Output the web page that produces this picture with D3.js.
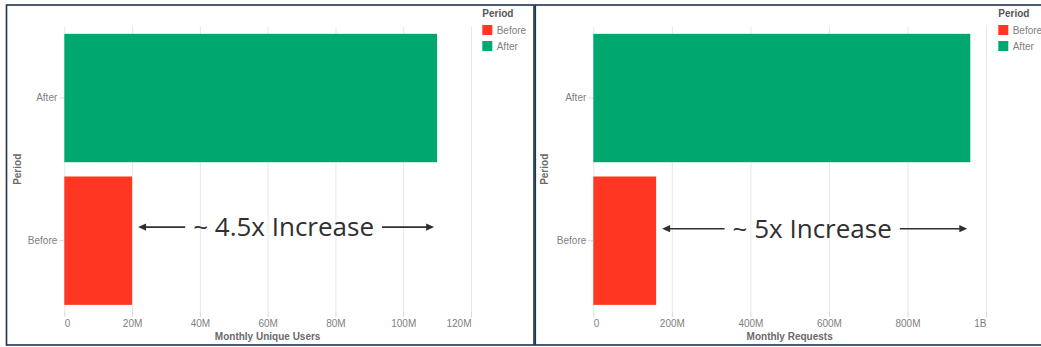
<!DOCTYPE html>
<html>
<head>
<meta charset="utf-8">
<script src="https://cdn.jsdelivr.net/npm/d3@7"></script>
<style>
  html, body { margin: 0; padding: 0; background: #ffffff; }
  svg { display: block; font-family: "Liberation Sans", Arial, Helvetica, sans-serif; }
</style>
</head>
<body>
<svg id="chart" width="1041" height="347"></svg>
<script>
// ---- data ----
const categories = ["After", "Before"];
const legendOrder = ["Before", "After"];
const usersValues = [110e6, 20e6];
const requestsValues = [960e6, 160e6];
const usersTicks = [0, 20e6, 40e6, 60e6, 80e6, 100e6, 120e6];
const usersTickLabels = ["0", "20M", "40M", "60M", "80M", "100M", "120M"];
const requestsTicks = [0, 200e6, 400e6, 600e6, 800e6, 1e9];
const requestsTickLabels = ["0", "200M", "400M", "600M", "800M", "1B"];
const usersTitle = "Monthly Unique Users";
const requestsTitle = "Monthly Requests";
const usersAnnotation = "~ 4.5x Increase";
const requestsAnnotation = "~ 5x Increase";
const legendTitle = "Period";
const yTitle = "Period";

// ---- styles ----
const SANS = "'Liberation Sans', Arial, Helvetica, sans-serif";
const color = d3.scaleOrdinal().domain(legendOrder).range(["#ff3621", "#00a870"]);
const svg = d3.select("#chart");

// panel frames
svg.append("rect").attr("x", 6.5).attr("y", 5).attr("width", 527.5).attr("height", 340)
  .attr("fill", "none").attr("stroke", "#1d3452").attr("stroke-width", 1.6);
svg.append("rect").attr("x", 535.3).attr("y", 5).attr("width", 520).attr("height", 340)
  .attr("fill", "none").attr("stroke", "#1d3452").attr("stroke-width", 1.6);

function drawPanel(cfg) {
  const g = svg.append("g");
  const x = d3.scaleLinear().domain([0, cfg.ticks[cfg.ticks.length - 1]]).range([cfg.x0, cfg.x1]);
  const y = d3.scaleBand().domain(categories).range([26.7, 312]).paddingInner(0.1).paddingOuter(0.05);

  // grid
  const grid = g.append("g").attr("transform", "translate(0,312)")
    .call(d3.axisBottom(x).tickValues(cfg.ticks).tickSize(-(312 - 26.7)).tickFormat(""));
  grid.select(".domain").remove();
  grid.selectAll("line").attr("stroke", "#e8e8e8").attr("stroke-width", 1);

  // x axis
  const xa = g.append("g").attr("transform", "translate(0,312)")
    .call(d3.axisBottom(x).tickValues(cfg.ticks).tickSize(5).tickPadding(3)
      .tickFormat((d, i) => cfg.tickLabels[i]));
  xa.select(".domain").remove();
  xa.selectAll("line").attr("stroke", "#d8d8d8");
  xa.selectAll("text").attr("fill", "#808080").style("font-size", "10px").style("font-family", SANS)
    .attr("text-anchor", (d, i) => i === 0 ? "start" : (i === cfg.ticks.length - 1 ? "end" : "middle"));

  // x title
  g.append("text").attr("x", (cfg.x0 + cfg.x1) / 2).attr("y", 340)
    .attr("text-anchor", "middle").style("font-size", "10px").style("font-weight", "bold")
    .style("font-family", SANS).attr("fill", "#6a6a6a").text(cfg.xTitle);

  // y axis
  const ya = g.append("g").attr("transform", `translate(${cfg.x0},0)`)
    .call(d3.axisLeft(y).tickSize(5).tickPadding(2));
  ya.select(".domain").remove();
  ya.selectAll("line").attr("stroke", "#d8d8d8");
  ya.selectAll("text").attr("fill", "#808080").style("font-size", "10px").style("font-family", SANS);

  // y title
  g.append("text").attr("transform", `translate(${cfg.yTitleX},169.3) rotate(-90)`)
    .attr("text-anchor", "middle").style("font-size", "10px").style("font-weight", "bold")
    .style("font-family", SANS).attr("fill", "#6a6a6a").text(yTitle);

  // bars
  g.selectAll("rect.bar").data(categories).enter().append("rect")
    .attr("class", "bar")
    .attr("x", x(0))
    .attr("y", d => y(d))
    .attr("width", (d, i) => x(cfg.values[i]) - x(0))
    .attr("height", y.bandwidth())
    .attr("fill", d => color(d));

  // legend
  const lg = g.append("g").attr("transform", `translate(${cfg.legendX},0)`);
  lg.append("text").attr("x", 0).attr("y", 16.5).style("font-size", "10px").style("font-weight", "bold")
    .style("font-family", SANS).attr("fill", "#555").text(legendTitle);
  legendOrder.forEach((c, i) => {
    const cy = 30 + i * 16;
    lg.append("rect").attr("x", 0).attr("y", cy - 5).attr("width", 10).attr("height", 10).attr("fill", color(c));
    lg.append("text").attr("x", 14.4).attr("y", cy).attr("dy", "0.35em").style("font-size", "10px")
      .style("font-family", SANS).attr("fill", "#808080").text(c);
  });

  // annotation
  const beforeEnd = x(cfg.values[categories.indexOf("Before")]);
  const afterEnd = x(cfg.values[categories.indexOf("After")]);
  const headL = beforeEnd + 6;
  const headR = afterEnd - 3;
  const base = y("Before") + y.bandwidth() / 2 - cfg.baseOff;
  const ay = base - 9;
  const mid = (headL + headR) / 2 - 2.5;
  const t = g.append("text").attr("x", mid).attr("y", base).attr("text-anchor", "middle")
    .style("font-family", "'Open Sans', sans-serif").style("font-size", "26px").attr("fill", "#2f2f2f")
    .text(cfg.annotation);
  const w = t.node().getComputedTextLength();
  const tl = mid - w / 2, tr = mid + w / 2;
  const arrow = (xFrom, xTo) => {
    const dir = Math.sign(xTo - xFrom);
    g.append("line").attr("x1", xFrom).attr("x2", xTo - dir * 6).attr("y1", ay).attr("y2", ay)
      .attr("stroke", "#2f2f2f").attr("stroke-width", 1.6);
    g.append("path")
      .attr("d", `M${xTo},${ay} L${xTo - dir * 8},${ay - 3.6} L${xTo - dir * 8},${ay + 3.6} Z`)
      .attr("fill", "#2f2f2f");
  };
  arrow(tl - 8, headL);
  arrow(tr + 8, headR);
}

drawPanel({
  values: usersValues, ticks: usersTicks, tickLabels: usersTickLabels, xTitle: usersTitle,
  annotation: usersAnnotation, x0: 64.3, x1: 471, yTitleX: 20.7, legendX: 482.3, baseOff: 4.6
});
drawPanel({
  values: requestsValues, ticks: requestsTicks, tickLabels: requestsTickLabels, xTitle: requestsTitle,
  annotation: requestsAnnotation, x0: 593.3, x1: 986, yTitleX: 547.5, legendX: 998.3, baseOff: 3
});
</script>
</body>
</html>
